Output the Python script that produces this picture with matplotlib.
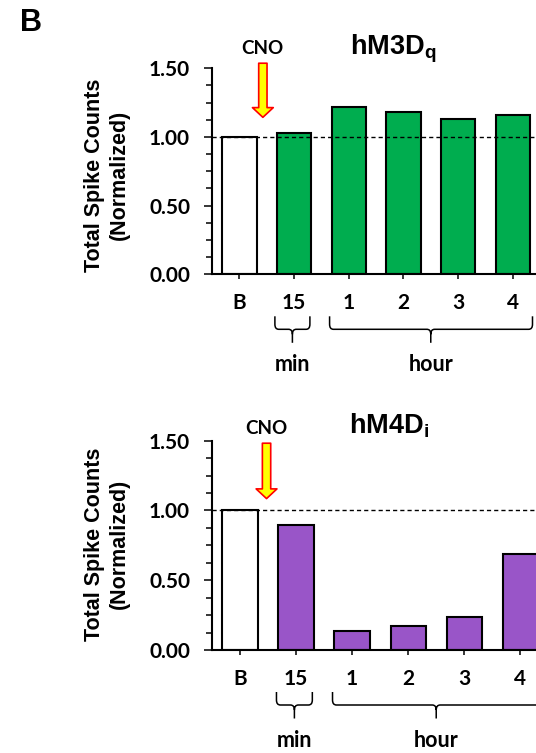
import matplotlib
matplotlib.use("Agg")
import matplotlib.pyplot as plt
from matplotlib.path import Path
from matplotlib.patches import PathPatch
from matplotlib.transforms import blended_transform_factory

# ---- data ----
categories = ["B", "15", "1", "2", "3", "4"]
hm3dq_values = [1.00, 1.027, 1.221, 1.180, 1.133, 1.158]
hm4di_values = [1.00, 0.898, 0.136, 0.172, 0.234, 0.689]
y_ticks = [0.0, 0.5, 1.0, 1.5]
y_tick_labels = ["0.00", "0.50", "1.00", "1.50"]
group_labels = ["min", "hour"]

GREEN = "#00AD4F"
PURPLE = "#9955C8"

plt.rcParams["mathtext.fontset"] = "custom"
plt.rcParams["mathtext.bf"] = "Liberation Sans:bold"
plt.rcParams["mathtext.rm"] = "Liberation Sans:bold"

W, H = 536, 753
fig = plt.figure(figsize=(W / 100, H / 100), dpi=100)

TICK_FONT = dict(family="Lato", weight="bold", size=15)


def draw_brace(ax, x0, x1, xc, h_px):
    # curly bracket under a group of ticks, y given in pixels below the axis
    f = lambda px: -px / h_px
    top, bend, hz, tip = f(42), f(50), f(55), f(68.5)
    rx = 0.07
    verts = [(x0, top), (x0, bend), (x0, hz), (x0 + rx, hz),
             (xc - rx, hz), (xc, hz), (xc, f(60)), (xc, tip),
             (xc, f(60)), (xc, hz), (xc + rx, hz),
             (x1 - rx, hz), (x1, hz), (x1, bend), (x1, top)]
    codes = [Path.MOVETO, Path.LINETO, Path.CURVE3, Path.CURVE3,
             Path.LINETO, Path.CURVE3, Path.CURVE3, Path.LINETO,
             Path.MOVETO, Path.CURVE3, Path.CURVE3,
             Path.LINETO, Path.CURVE3, Path.CURVE3, Path.LINETO]
    trans = blended_transform_factory(ax.transData, ax.transAxes)
    ax.add_patch(PathPatch(Path(verts, codes), fc="none", ec="black",
                           lw=1.1, transform=trans, clip_on=False))


def panel(rect, values, color, xlim, title, title_xy, cno_xy, arrow_x, arrow_y,
          ylabel_y):
    ax = fig.add_axes(rect)
    x = list(range(len(categories)))
    colors = ["white"] + [color] * (len(categories) - 1)
    ax.bar(x, values, width=0.63, color=colors, edgecolor="black",
           linewidth=1.5, zorder=2)
    ax.axhline(1.0, color="black", lw=1.0, dashes=(3.0, 2.2), zorder=3)

    ax.set_xlim(*xlim)
    ax.set_ylim(0, 1.5)
    ax.set_yticks(y_ticks)
    ax.set_yticklabels(y_tick_labels, fontdict=TICK_FONT)
    ax.set_yticks([i * 0.125 for i in range(13)], minor=True)
    ax.set_xticks(x)
    ax.set_xticklabels(categories, fontdict=TICK_FONT)
    ax.tick_params(axis="y", which="major", length=5.8, width=1.1, pad=10)
    ax.tick_params(axis="y", which="minor", length=4.1, width=1.1)
    ax.tick_params(axis="x", length=3.8, width=1.1, pad=10)
    for side in ("top", "right"):
        ax.spines[side].set_visible(False)
    for side in ("left", "bottom"):
        ax.spines[side].set_linewidth(1.5)

    h_px = rect[3] * H
    draw_brace(ax, 0.65, 1.29, 0.97, h_px)
    draw_brace(ax, 1.65, 5.36, 3.5, h_px)
    trans = blended_transform_factory(ax.transData, ax.transAxes)
    for lab, xc in zip(group_labels, [0.97, 3.5]):
        ax.text(xc, -97 / h_px, lab, transform=trans, ha="center",
                va="baseline", family="Lato", weight="bold", fontsize=15.5,
                clip_on=False)

    ax.text(*title_xy, title, ha="center", va="baseline", fontsize=19.5,
            clip_on=False)
    ax.text(*cno_xy, "CNO", ha="center", va="center", family="Lato",
            weight="bold", fontsize=13.5, clip_on=False)
    ax.annotate("", xy=(arrow_x, arrow_y[1]), xytext=(arrow_x, arrow_y[0]),
                arrowprops=dict(arrowstyle="simple,head_width=1.5,head_length=0.7,tail_width=0.6",
                                fc="#FFFF00", ec="#FF0000", lw=1.2,
                                shrinkA=0, shrinkB=0, mutation_scale=10),
                annotation_clip=False)

    fig.text(107 / W, 1 - ylabel_y / H, "Total Spike Counts\n(Normalized)",
             rotation=90, ha="center", va="center", multialignment="center",
             family="Liberation Sans", weight="bold", fontsize=15.5,
             linespacing=1.2)
    return ax


panel([212 / W, (H - 274.3) / H, 1 - 212 / W, 206 / H],
      hm3dq_values, GREEN, (-0.5, 5.424), r"$\mathbf{hM3D_q}$",
      (2.81, 1.597), (0.43, 1.646), 0.43, (1.537, 1.143), 175)

panel([212 / W, (H - 650) / H, 1 - 212 / W, 209.3 / H],
      hm4di_values, PURPLE, (-0.5, 5.28), r"$\mathbf{hM4D_i}$",
      (2.658, 1.553), (0.476, 1.589), 0.473, (1.482, 1.085), 544)

fig.text(30.8 / W, 1 - 22.9 / H, "B", ha="center", va="center",
         family="Liberation Sans", weight="bold", fontsize=22)

fig.savefig("out.png", dpi=100)
